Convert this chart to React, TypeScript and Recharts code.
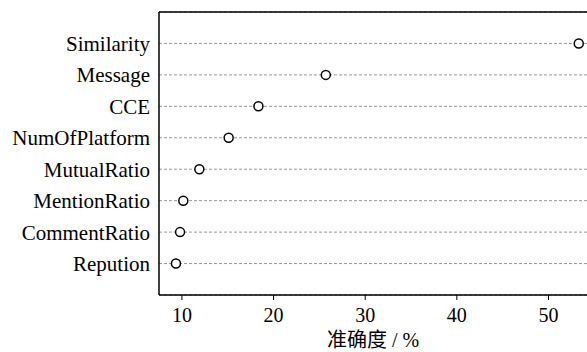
import React from 'react';
import { ScatterChart, Scatter, XAxis, YAxis, CartesianGrid, Label } from 'recharts';

const features = ['Similarity', 'Message', 'CCE', 'NumOfPlatform', 'MutualRatio', 'MentionRatio', 'CommentRatio', 'Repution'];
const accuracy = [53.3, 25.7, 18.35, 15.1, 11.9, 10.15, 9.8, 9.35];
const xTicks = [10, 20, 30, 40, 50];

const rows = features.map((name, i) => ({ name, rank: i + 1, acc: accuracy[i] }));

const FONT = '"Liberation Serif", "Noto Sans CJK SC", serif';

const OpenDot = (props: any) => {
  const { cx, cy } = props;
  return <circle cx={cx} cy={cy} r={4.5} fill="#fff" stroke="#000" strokeWidth={1.5} />;
};

const App: React.FC = () => {
  return (
    <div style={{ position: 'absolute', left: 0, top: 0, background: '#fff' }}>
      <ScatterChart width={587} height={352} margin={{ top: 11, right: 0, bottom: 0, left: 0 }}>
        <CartesianGrid vertical={false} stroke="#999" strokeDasharray="3 2" />
        <XAxis
          xAxisId="top"
          orientation="top"
          type="number"
          dataKey="acc"
          domain={[7.5, 54.2]}
          allowDataOverflow
          tick={false}
          tickLine={false}
          height={1}
          axisLine={{ stroke: '#000', strokeWidth: 1.5 }}
        />
        <XAxis
          type="number"
          dataKey="acc"
          domain={[7.5, 54.2]}
          allowDataOverflow
          ticks={xTicks}
          height={57}
          tickSize={5}
          tickMargin={8}
          tickLine={{ stroke: '#000' }}
          axisLine={{ stroke: '#000', strokeWidth: 1.5 }}
          tick={{ fill: '#000', fontSize: 20, fontFamily: FONT }}
        >
          <Label
            value="准确度 / %"
            position="insideBottom"
            offset={5}
            style={{ fill: '#000', fontSize: 20, fontFamily: FONT }}
          />
        </XAxis>
        <YAxis
          type="number"
          dataKey="rank"
          domain={[0, 9]}
          reversed
          ticks={rows.map((r) => r.rank)}
          tickFormatter={(v: number) => features[v - 1]}
          width={159}
          tickLine={false}
          tickSize={7}
          tickMargin={2}
          axisLine={{ stroke: '#000', strokeWidth: 1.5 }}
          tick={{ fill: '#000', fontSize: 21, fontFamily: FONT }}
        />
        <Scatter data={rows} xAxisId={0} shape={<OpenDot />} isAnimationActive={false} />
      </ScatterChart>
    </div>
  );
};

export default App;
